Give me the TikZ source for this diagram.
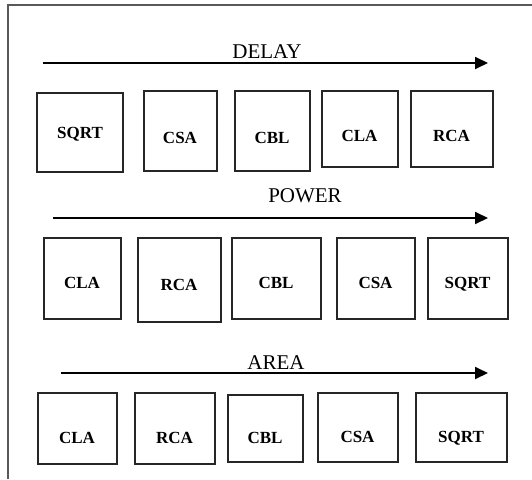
\documentclass[tikz,border=0pt]{standalone}
\usepackage{fontspec}
\setmainfont{Liberation Serif}
\usetikzlibrary{arrows.meta,positioning}
\tikzset{
  block/.style={
    % The shape:
    rectangle,
    % The border:
    draw=black!85, line width=2pt,
    % Font
    font=\fontsize{17}{17}\selectfont\bfseries,
    text depth=0pt
  },
  delayrow/.style={block, text height=25pt},
  powerrow/.style={block, text height=21pt},
  arearow/.style={block, text height=31pt},
  title/.style={font=\fontsize{21}{21}\selectfont, inner sep=0pt}
}
\tikzstyle{line} = [draw, line width=1.8pt, -{Triangle[length=13pt,width=12pt]}]
\tikzstyle{frame} = [draw=black!65, line width=2pt]

\begin{document}
\begin{tikzpicture}[x=1pt,y=-1pt]
\useasboundingbox (0,0) rectangle (532,479);
% Frame
\coordinate (fbl) at (8,479);
\coordinate (ftl) at (8,5);
\coordinate (ftr) at (532,5);
\path [frame] (fbl) -- (ftl) -- (ftr);
% Delay
\coordinate (dls) at (43,63);
\coordinate (dle) at (488,63);
\node [title] (dlbl) at (267,52) {DELAY};
\node [delayrow, minimum width=86pt, minimum height=79pt, text height=13pt] (d1) at (80,132) {SQRT};
\node [delayrow, minimum width=73pt, minimum height=80pt] (d2) at (180,130.5) {CSA};
\node [delayrow, minimum width=75pt, minimum height=80pt] (d3) at (272,130.5) {CBL};
\node [delayrow, minimum width=76pt, minimum height=76pt] (d4) at (359.5,128.5) {CLA};
\node [delayrow, minimum width=82pt, minimum height=76pt] (d5) at (451.5,128.5) {RCA};
% Power
\coordinate (pls) at (53,218);
\coordinate (ple) at (488,218);
\node [title] (plbl) at (305,196) {POWER};
\node [powerrow, minimum width=77pt, minimum height=81pt] (p1) at (82,278) {CLA};
\node [powerrow, minimum width=83pt, minimum height=84pt] (p2) at (179,279.5) {RCA};
\node [powerrow, minimum width=89pt, minimum height=81pt] (p3) at (276,278) {CBL};
\node [powerrow, minimum width=78pt, minimum height=81pt] (p4) at (375.5,278) {CSA};
\node [powerrow, minimum width=80pt, minimum height=81pt] (p5) at (467.5,278) {SQRT};
% Area
\coordinate (als) at (61,373);
\coordinate (ale) at (488,373);
\node [title] (albl) at (276,363) {AREA};
\node [arearow, minimum width=79pt, minimum height=71pt] (a1) at (77,428) {CLA};
\node [arearow, minimum width=80pt, minimum height=71pt] (a2) at (174.5,428) {RCA};
\node [arearow, minimum width=75pt, minimum height=67pt] (a3) at (265,428) {CBL};
\node [arearow, minimum width=80pt, minimum height=69pt] (a4) at (357.5,427) {CSA};
\node [arearow, minimum width=91pt, minimum height=69pt] (a5) at (461,427) {SQRT};
% Draw arrows
\path [line] (dls) -- (dle);
\path [line] (pls) -- (ple);
\path [line] (als) -- (ale);
\end{tikzpicture}
\end{document}
